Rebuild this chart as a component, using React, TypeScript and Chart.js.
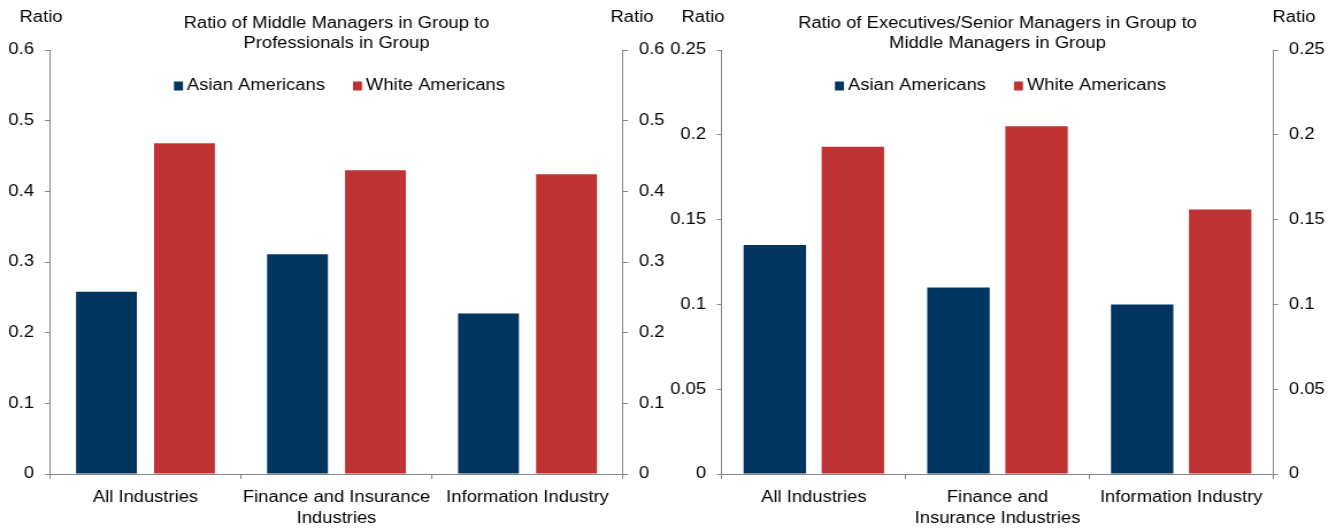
import React, { useEffect, useRef } from "react";
import { Chart, registerables } from "chart.js";

Chart.register(...registerables);

// Categories (multi-line labels)
const leftCategories = [["All Industries"], ["Finance and Insurance", "Industries"], ["Information Industry"]];
const rightCategories = [["All Industries"], ["Finance and", "Insurance Industries"], ["Information Industry"]];

const seriesNames = ["Asian Americans", "White Americans"];

// Ratio of middle managers to professionals
const midToProAsian = [0.258, 0.311, 0.227];
const midToProWhite = [0.468, 0.43, 0.424];

// Ratio of executives/senior managers to middle managers
const execToMidAsian = [0.135, 0.11, 0.1];
const execToMidWhite = [0.193, 0.205, 0.156];

// Axis ranges
const leftAxis = { min: 0, max: 0.6, step: 0.1 };
const rightAxis = { min: 0, max: 0.25, step: 0.05 };

const leftTitle = ["Ratio of Middle Managers in Group to", "Professionals in Group"];
const rightTitle = ["Ratio of Executives/Senior Managers in Group to", "Middle Managers in Group"];
const axisUnit = "Ratio";

const NAVY = "#003560";
const RED = "#BF3234";
const AXIS_GRAY = "#868686";
const FONT_FAMILY = "'Liberation Sans', Arial, sans-serif";

// Each panel is drawn on a narrower bitmap and widened with CSS,
// giving the slightly wide lettering of the printed chart.
const PANEL_W = 668;
const PANEL_H = 529;
const STRETCH = 1.15;
const BITMAP_W = Math.round(PANEL_W / STRETCH);
const SX = PANEL_W / BITMAP_W;

type PanelProps = {
  categories: string[][];
  asian: number[];
  white: number[];
  axis: { min: number; max: number; step: number };
  title: string[];
  leftAxisAt: number; // on-screen x of the left axis line
  rightAxisAt: number; // on-screen x of the right axis line
  unitOffsetLeft: number;
  unitOffsetRight: number;
  barPct: number;
  catPct: number;
};

const fmt = (v: number) => String(Number(Number(v).toFixed(2)));

function Panel(props: PanelProps) {
  const ref = useRef<HTMLCanvasElement | null>(null);

  useEffect(() => {
    if (!ref.current) return;
    const font = { family: FONT_FAMILY, size: 16, lineHeight: 1.3 };
    const leftWidth = props.leftAxisAt / SX;
    const rightWidth = BITMAP_W - props.rightAxisAt / SX;

    const annotations = {
      id: "panelText",
      afterDraw(chart: any) {
        const { ctx, chartArea } = chart;
        const cx = (chartArea.left + chartArea.right) / 2;
        ctx.save();
        ctx.fillStyle = "#000";
        ctx.font = `16px ${FONT_FAMILY}`;
        ctx.textBaseline = "middle";
        ctx.textAlign = "center";
        // title
        props.title.forEach((line, i) => ctx.fillText(line, cx, 24 + i * 20));
        // axis unit labels
        ctx.fillText(axisUnit, chartArea.left + props.unitOffsetLeft / SX, 17.5);
        ctx.fillText(axisUnit, chartArea.right + props.unitOffsetRight / SX, 17.5);
        // legend
        const box = 9 / SX;
        const gapText = 4 / SX;
        const gapItem = 28 / SX;
        const items = chart.data.datasets.map((d: any) => ({
          label: d.label,
          color: d.backgroundColor,
          w: ctx.measureText(d.label).width,
        }));
        const total =
          items.reduce((s: number, it: any) => s + box + gapText + it.w, 0) + gapItem * (items.length - 1);
        let x = cx + 3 / SX - total / 2;
        const ly = 86;
        ctx.textAlign = "left";
        items.forEach((it: any) => {
          ctx.fillStyle = it.color;
          ctx.fillRect(x, ly - 4.5, box, 9);
          ctx.fillStyle = "#000";
          ctx.fillText(it.label, x + box + gapText, ly);
          x += box + gapText + it.w + gapItem;
        });
        ctx.restore();
      },
    };

    const yScale = (position: "left" | "right", width: number) => ({
      position,
      min: props.axis.min,
      max: props.axis.max,
      ticks: {
        stepSize: props.axis.step,
        padding: 11 / SX,
        color: "#000",
        font,
        callback: (v: any) => fmt(v),
      },
      grid: { drawOnChartArea: false, tickLength: 5 / SX, color: AXIS_GRAY, lineWidth: 1 },
      border: { color: AXIS_GRAY, width: 1 },
      afterFit: (s: any) => {
        s.width = width;
      },
    });

    const chart = new Chart(ref.current, {
      type: "bar",
      data: {
        labels: props.categories,
        datasets: [
          {
            label: seriesNames[0],
            data: props.asian,
            backgroundColor: NAVY,
            yAxisID: "y",
            barPercentage: props.barPct,
            categoryPercentage: props.catPct,
          },
          {
            label: seriesNames[1],
            data: props.white,
            backgroundColor: RED,
            yAxisID: "y",
            barPercentage: props.barPct,
            categoryPercentage: props.catPct,
          },
        ],
      },
      options: {
        responsive: false,
        animation: false,
        devicePixelRatio: 1,
        layout: { padding: { top: 50, left: 0, right: 0, bottom: 0 } },
        plugins: {
          legend: { display: false },
          title: { display: false },
          tooltip: { enabled: false },
        },
        scales: {
          x: {
            grid: { offset: true, drawOnChartArea: false, tickLength: 5, color: AXIS_GRAY, lineWidth: 1 },
            border: { color: AXIS_GRAY, width: 1 },
            ticks: { color: "#000", font, padding: 8, maxRotation: 0, autoSkip: false },
            afterFit: (s: any) => {
              s.height = 55;
            },
          },
          y: yScale("left", leftWidth),
          y2: yScale("right", rightWidth),
        },
      } as any,
      plugins: [annotations],
    });
    return () => chart.destroy();
  }, []);

  return (
    <canvas
      ref={ref}
      width={BITMAP_W}
      height={PANEL_H}
      style={{ display: "block", width: PANEL_W, height: PANEL_H }}
    />
  );
}

export default function App() {
  return (
    <div
      style={{
        position: "absolute",
        left: 0,
        top: 0,
        width: PANEL_W * 2,
        height: PANEL_H,
        display: "flex",
        background: "#fff",
      }}
    >
      <Panel
        categories={leftCategories}
        asian={midToProAsian}
        white={midToProWhite}
        axis={leftAxis}
        title={leftTitle}
        leftAxisAt={50}
        rightAxisAt={623}
        unitOffsetLeft={-9}
        unitOffsetRight={9}
        barPct={0.78}
        catPct={0.817}
      />
      <Panel
        categories={rightCategories}
        asian={execToMidAsian}
        white={execToMidWhite}
        axis={rightAxis}
        title={rightTitle}
        leftAxisAt={54}
        rightAxisAt={605}
        unitOffsetLeft={-19}
        unitOffsetRight={21}
        barPct={0.8}
        catPct={0.85}
      />
    </div>
  );
}
